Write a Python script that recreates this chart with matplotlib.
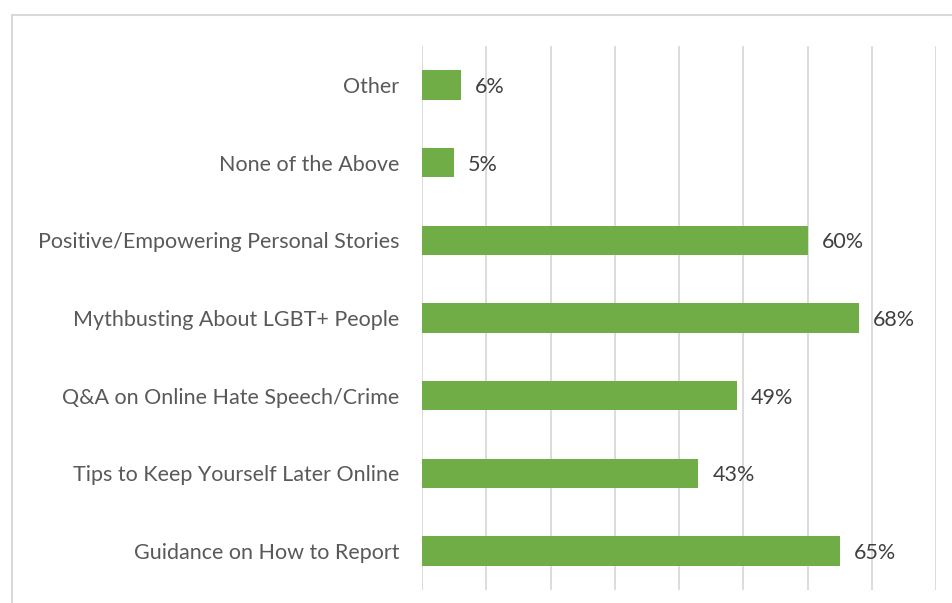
import matplotlib.pyplot as plt
from matplotlib.patches import Rectangle

categories = ["Guidance on How to Report", "Tips to Keep Yourself Later Online",
              "Q&A on Online Hate Speech/Crime", "Mythbusting About LGBT+ People",
              "Positive/Empowering Personal Stories", "None of the Above", "Other"]
values = [65, 43, 49, 68, 60, 5, 6]
value_labels = ["65%", "43%", "49%", "68%", "60%", "5%", "6%"]

W, H = 952, 603


def main():
    plt.rcParams['font.family'] = ['Lato', 'DejaVu Sans']
    fig = plt.figure(figsize=(W / 100, H / 100), dpi=100)
    ax = fig.add_axes([422 / W, 1 - 590 / H, (936 - 422) / W, (590 - 46) / H])

    y = range(len(categories))
    ax.barh(y, values, height=0.38, color="#70ad47", zorder=3)
    for i, (v, lab) in enumerate(zip(values, value_labels)):
        ax.text(v + 2.2, i, lab, va="center_baseline", ha="left", fontsize=15.5, color="#404040")

    ax.set_xlim(0, 80)
    ax.set_ylim(-0.5, len(categories) - 0.5)
    ax.set_xticks(range(0, 81, 10))
    ax.set_xticklabels([])
    ax.tick_params(axis="x", length=0)
    ax.set_yticks(list(y))
    ax.set_yticklabels(categories, fontsize=15.5, color="#595959")
    ax.tick_params(axis="y", length=0, pad=16.5)
    ax.grid(axis="x", color="#d9d9d9", lw=1.3, zorder=0)
    for s in ax.spines.values():
        s.set_visible(False)

    # chart frame
    fig.patches.append(Rectangle((12 / W, -0.1), 1.1, 1.1 - 15 / H, transform=fig.transFigure,
                                 fill=False, edgecolor="#d9d9d9", lw=1.5))
    fig.savefig("out.png", dpi=100)
    plt.close(fig)


if __name__ == "__main__":
    main()
